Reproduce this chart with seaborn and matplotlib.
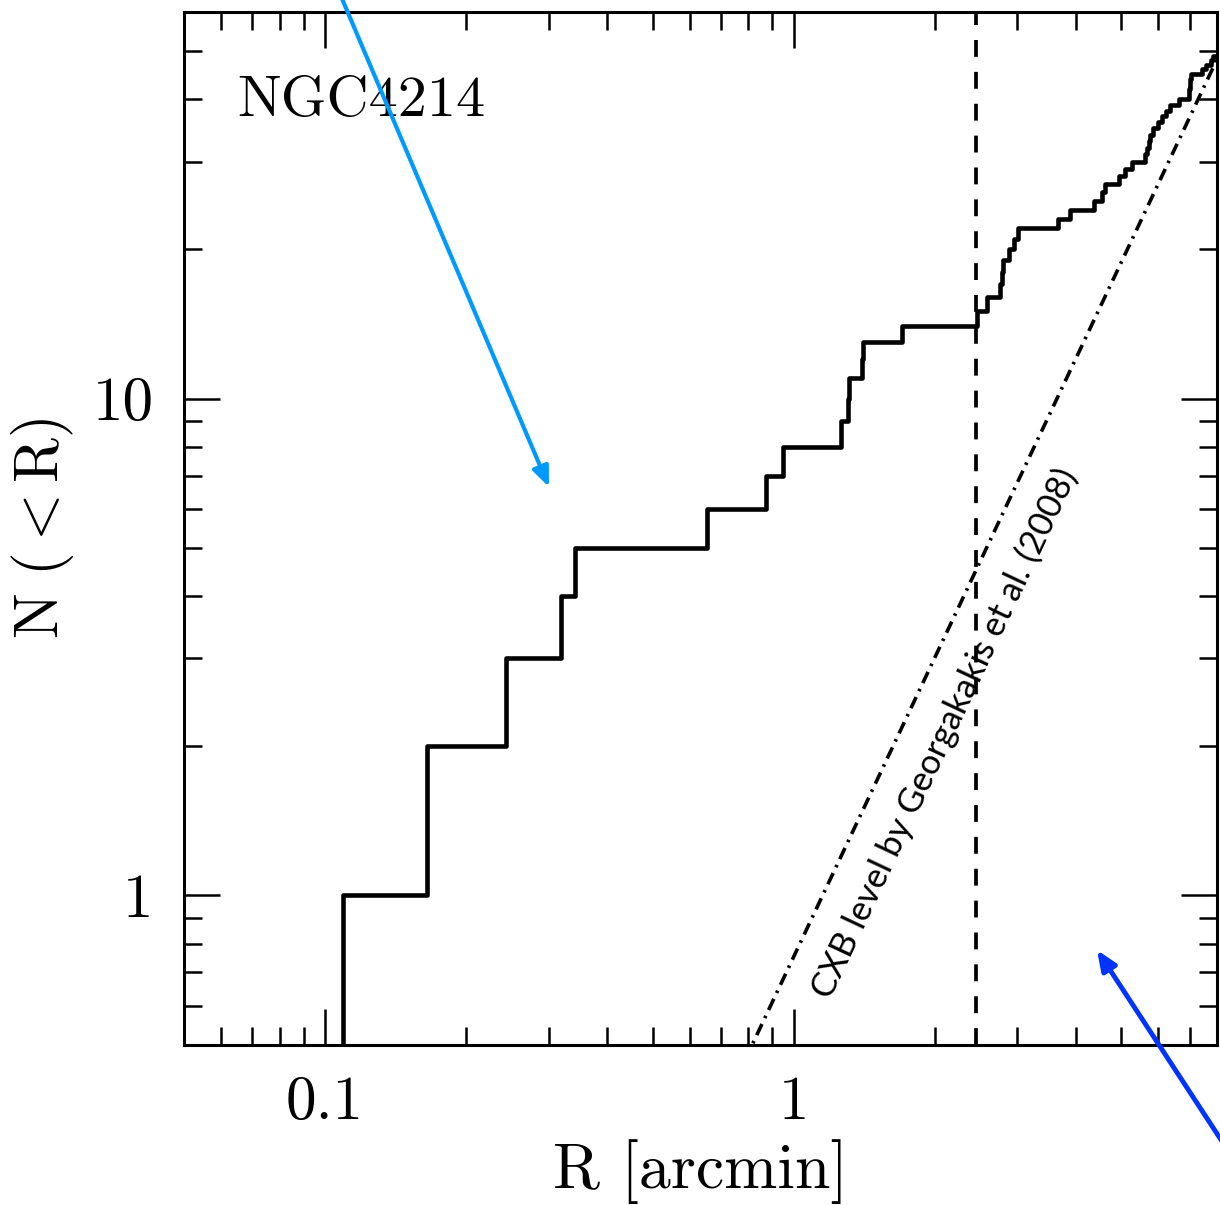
import matplotlib
matplotlib.use("Agg")
import matplotlib.pyplot as plt
import matplotlib.ticker as ticker
import seaborn as sns
import numpy as np

# radii (arcmin) at which the cumulative source count steps up by one
r_src = [0.1093, 0.165, 0.2431, 0.3186, 0.3412, 0.6524, 0.8714, 0.9474,
         1.2597, 1.3036, 1.3133, 1.3963, 1.4031, 1.699, 2.4556, 2.5835,
         2.7598, 2.7775, 2.791, 2.884, 2.945, 3.008, 3.655, 3.89, 4.363,
         4.545, 4.621, 4.932, 5.097, 5.265, 5.623, 5.667, 5.714, 5.762,
         5.855, 6.001, 6.099, 6.242, 6.357, 6.623, 6.956, 6.97, 6.99, 7.0,
         7.025, 7.414, 7.562, 7.749, 7.826]
r_outer = 8.2

# CXB expectation (straight line in log-log), read at two radii
cxb_r = [0.7, 8.5]
cxb_n = [0.369, 54.4]

r_dashed = 2.45  # vertical dashed radius
galaxy = "NGC4214"
cxb_label = "CXB level by Georgakakis et al. (2008)"

sns.set_style("ticks")
plt.rcParams["font.family"] = ["cmr10", "DejaVu Serif"]
plt.rcParams["mathtext.fontset"] = "cm"
plt.rcParams["axes.formatter.use_mathtext"] = True
plt.rcParams["text.color"] = "black"
plt.rcParams["axes.labelcolor"] = "black"
plt.rcParams["xtick.color"] = "black"
plt.rcParams["ytick.color"] = "black"

counts = list(np.arange(1, len(r_src) + 1))
step_x = [r_src[0]] + r_src + [r_outer]
step_y = [0.3] + counts + [counts[-1]]

fig = plt.figure(figsize=(12.2, 12.05), dpi=100)
ax = fig.add_axes([184 / 1220, 1 - 1045 / 1205, 1033 / 1220, 1033 / 1205])

sns.lineplot(x=step_x, y=step_y, ax=ax, color="black", lw=3.3,
             drawstyle="steps-post", estimator=None, sort=False)
sns.lineplot(x=cxb_r, y=cxb_n, ax=ax, color="black", lw=2.6,
             linestyle=(0, (3.4, 1.8, 0.7, 1.8)), estimator=None, sort=False)
ax.axvline(r_dashed, color="black", lw=2.7, linestyle=(0, (4.5, 4)))

ax.set_xscale("log")
ax.set_yscale("log")
ax.set_xlim(0.05, 8)
ax.set_ylim(0.5, 60)

fmt = ticker.FuncFormatter(lambda v, _: f"{v:g}")
ax.xaxis.set_major_locator(ticker.FixedLocator([0.1, 1]))
ax.yaxis.set_major_locator(ticker.FixedLocator([1, 10]))
ax.xaxis.set_major_formatter(fmt)
ax.yaxis.set_major_formatter(fmt)
ax.xaxis.set_minor_locator(ticker.LogLocator(subs=np.arange(2, 10), numticks=20))
ax.yaxis.set_minor_locator(ticker.LogLocator(subs=np.arange(2, 10), numticks=20))
ax.xaxis.set_minor_formatter(ticker.NullFormatter())
ax.yaxis.set_minor_formatter(ticker.NullFormatter())

ax.tick_params(which="both", direction="in", top=True, right=True,
               width=1.8, labelsize=44, color="black", labelcolor="black")
ax.tick_params(which="major", length=26, pad=22)
ax.tick_params(which="minor", length=13)
for sp in ax.spines.values():
    sp.set_linewidth(2.2)
    sp.set_color("black")

ax.set_xlabel("R [arcmin]", fontsize=46, labelpad=6)
ax.set_ylabel(r"$\mathrm{N\ ({<}R)}$", fontsize=44, labelpad=12)

ax.text(0.052, 0.899, galaxy, transform=ax.transAxes, fontsize=42,
        va="baseline", ha="left")
ax.text(2.1, 2.12, cxb_label, rotation=64.8, rotation_mode="anchor",
        ha="center", va="center", fontsize=25, family="Lato",
        style="normal", weight="regular")

ax.annotate("", xy=(549 / 1220, 1 - 487 / 1205), xycoords="figure fraction",
            xytext=(341 / 1220, 1.003), textcoords="figure fraction",
            arrowprops=dict(arrowstyle="-|>,head_length=1.2,head_width=0.5",
                            color="#0099ff", lw=3, shrinkA=0, shrinkB=0),
            annotation_clip=False)
ax.annotate("", xy=(1097 / 1220, 1 - 950 / 1205), xycoords="figure fraction",
            xytext=(1.002, 1 - 1142 / 1205), textcoords="figure fraction",
            arrowprops=dict(arrowstyle="-|>,head_length=1.2,head_width=0.5",
                            color="#0033ff", lw=3.5, shrinkA=0, shrinkB=0),
            annotation_clip=False)

fig.savefig("out.png", dpi=100)
